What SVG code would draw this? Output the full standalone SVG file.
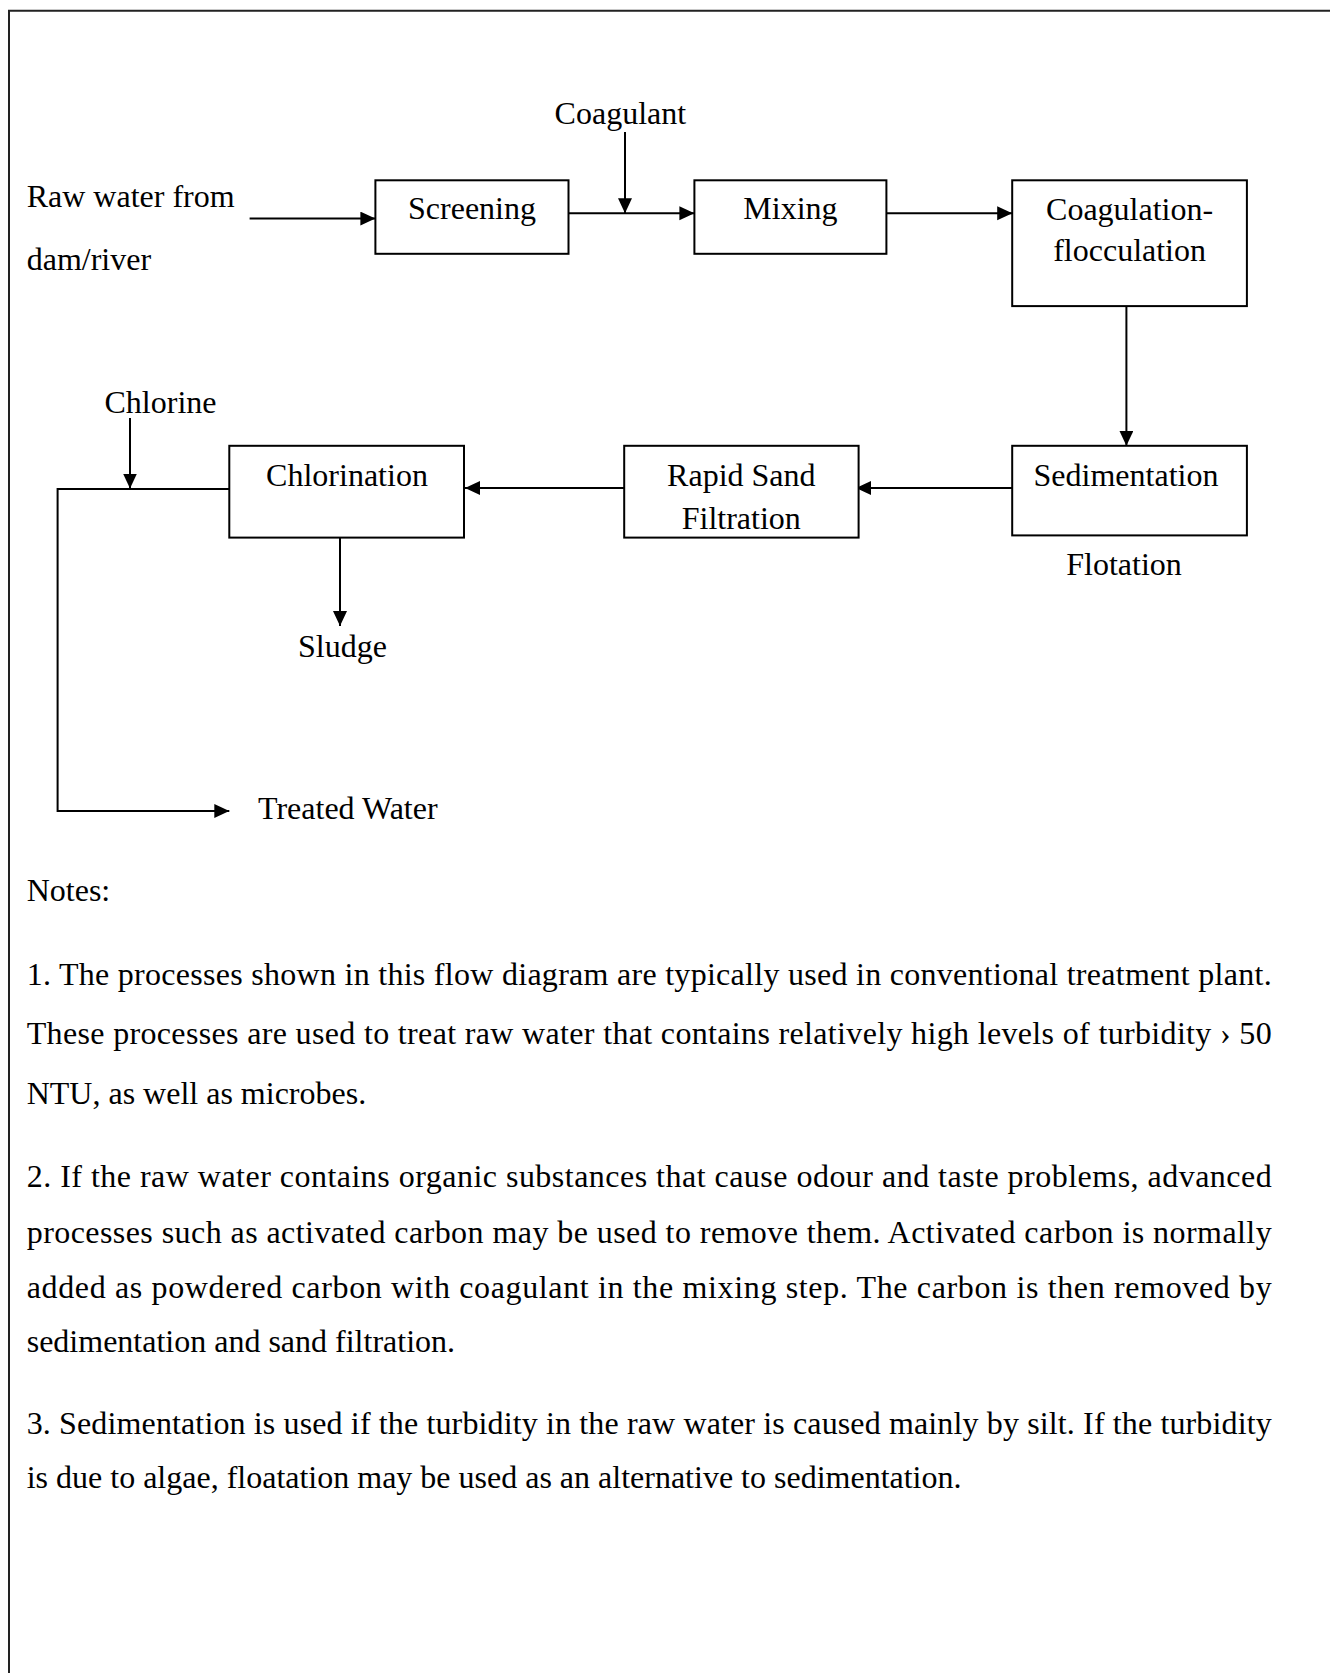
<svg xmlns="http://www.w3.org/2000/svg" width="1330" height="1673" viewBox="0 0 1330 1673">
<style>
text { font-family: "Liberation Serif", "Times New Roman", serif; font-size: 32px; fill: #000; }
.c { text-anchor: middle; }
.box { fill: #fff; stroke: #000; stroke-width: 2; }
.ln { fill: none; stroke: #000; stroke-width: 2; }
.frame { fill: none; stroke: #222; stroke-width: 2; }
</style>
<defs>
<marker id="ah" markerUnits="userSpaceOnUse" markerWidth="16" markerHeight="16" refX="15" refY="7" orient="auto">
<path d="M0,0 L15,7 L0,14 Z" fill="#000"/>
</marker>
</defs>
<rect width="1330" height="1673" fill="#fff"/>
<path class="frame" d="M9,1673 V10.7 H1330"/>

<g id="connectors">
<line class="ln" x1="249.6" y1="218.6" x2="375.4" y2="218.6" marker-end="url(#ah)"/>
<line class="ln" x1="568.5" y1="213.3" x2="694.4" y2="213.3" marker-end="url(#ah)"/>
<line class="ln" x1="625" y1="132" x2="625" y2="213.3" marker-end="url(#ah)"/>
<line class="ln" x1="886.4" y1="213.3" x2="1012.2" y2="213.3" marker-end="url(#ah)"/>
<line class="ln" x1="1126.4" y1="306" x2="1126.4" y2="445.8" marker-end="url(#ah)"/>
<line class="ln" x1="1012" y1="488" x2="856" y2="488" marker-end="url(#ah)"/>
<line class="ln" x1="624" y1="488" x2="465" y2="488" marker-end="url(#ah)"/>
<polyline class="ln" points="229.3,489 57.6,489 57.6,811 229.3,811" marker-end="url(#ah)"/>
<line class="ln" x1="130" y1="418" x2="130" y2="488.5" marker-end="url(#ah)"/>
<line class="ln" x1="340" y1="537.6" x2="340" y2="626" marker-end="url(#ah)"/>
</g>

<g id="raw-water">
<text x="26.7" y="206.5">Raw water from</text>
<text x="26.7" y="269.5">dam/river</text>
</g>
<g id="coagulant"><text x="554.6" y="123.7">Coagulant</text></g>
<g id="screening">
<rect class="box" x="375.4" y="180.3" width="193.1" height="73.5"/>
<text class="c" x="472" y="218.6">Screening</text>
</g>
<g id="mixing">
<rect class="box" x="694.4" y="180.3" width="192" height="73.5"/>
<text class="c" x="790.4" y="218.6">Mixing</text>
</g>
<g id="coagulation">
<rect class="box" x="1012.2" y="180.3" width="234.7" height="125.8"/>
<text class="c" x="1129.6" y="219.6">Coagulation-</text>
<text class="c" x="1129.6" y="261">flocculation</text>
</g>
<g id="sedimentation">
<rect class="box" x="1012.2" y="445.8" width="234.7" height="89.6"/>
<text class="c" x="1126" y="486">Sedimentation</text>
</g>
<g id="flotation"><text class="c" x="1124" y="575">Flotation</text></g>
<g id="rapid-sand">
<rect class="box" x="624.2" y="445.8" width="234.4" height="91.8"/>
<text class="c" x="741.3" y="486">Rapid Sand</text>
<text class="c" x="741.3" y="529">Filtration</text>
</g>
<g id="chlorination">
<rect class="box" x="229.3" y="445.8" width="234.7" height="91.8"/>
<text class="c" x="347" y="486">Chlorination</text>
</g>
<g id="chlorine"><text x="104.5" y="412.7">Chlorine</text></g>
<g id="sludge"><text class="c" x="342.4" y="657">Sludge</text></g>
<g id="treated-water"><text x="258" y="819">Treated Water</text></g>

<g id="notes">
<text x="26.7" y="901">Notes:</text>
<text x="26.7" y="985" textLength="1245" lengthAdjust="spacing">1. The processes shown in this flow diagram are typically used in conventional treatment plant.</text>
<text x="26.7" y="1044" textLength="1245" lengthAdjust="spacing">These processes are used to treat raw water that contains relatively high levels of turbidity › 50</text>
<text x="26.7" y="1104">NTU, as well as microbes.</text>
<text x="26.7" y="1187" textLength="1245" lengthAdjust="spacing">2. If the raw water contains organic substances that cause odour and taste problems, advanced</text>
<text x="26.7" y="1242.5" textLength="1245" lengthAdjust="spacing">processes such as activated carbon may be used to remove them. Activated carbon is normally</text>
<text x="26.7" y="1298" textLength="1245" lengthAdjust="spacing">added as powdered carbon with coagulant in the mixing step. The carbon is then removed by</text>
<text x="26.7" y="1352.3">sedimentation and sand filtration.</text>
<text x="26.7" y="1433.5" textLength="1245" lengthAdjust="spacing">3. Sedimentation is used if the turbidity in the raw water is caused mainly by silt. If the turbidity</text>
<text x="26.7" y="1488">is due to algae, floatation may be used as an alternative to sedimentation.</text>
</g>
</svg>
